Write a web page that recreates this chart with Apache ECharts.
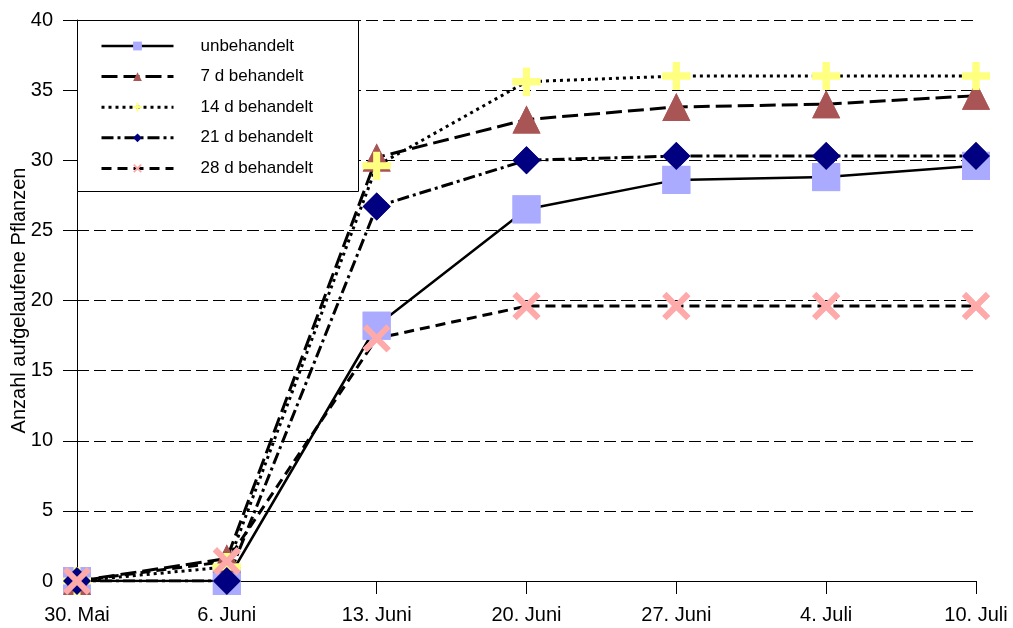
<!DOCTYPE html>
<html>
<head>
<meta charset="utf-8">
<script src="https://cdn.jsdelivr.net/npm/echarts@6/dist/echarts.min.js"></script>
<style>
html,body{margin:0;padding:0;background:#fff;}
#chart{width:1013px;height:628px;}
</style>
</head>
<body>
<div id="chart"></div>
<script>
const categories = ['30. Mai', '6. Juni', '13. Juni', '20. Juni', '27. Juni', '4. Juli', '10. Juli'];
const seriesNames = ['unbehandelt', '7 d behandelt', '14 d behandelt', '21 d behandelt', '28 d behandelt'];
const unbehandelt = [0, 0, 18.2, 26.5, 28.6, 28.8, 29.6];
const behandelt7 = [0, 1.6, 30.2, 32.9, 33.8, 34.0, 34.6];
const behandelt14 = [0, 1.0, 29.6, 35.6, 36.0, 36.0, 36.0];
const behandelt21 = [0, 0, 26.7, 30.0, 30.3, 30.3, 30.3];
const behandelt28 = [0, 1.4, 17.3, 19.6, 19.6, 19.6, 19.6];
const yTicks = [0, 5, 10, 15, 20, 25, 30, 35, 40];

const FONT = '"Liberation Sans", Arial, sans-serif';
const PLUS = 'path://M3,0H5V3H8V5H5V8H3V5H0V3H3Z';
const CROSS = 'path://M0,1.5L1.5,0L5,3.5L8.5,0L10,1.5L6.5,5L10,8.5L8.5,10L5,6.5L1.5,10L0,8.5L3.5,5Z';

const styles = [
  {data: unbehandelt, symbol: 'rect', color: '#AAAAFF', dash: 'solid', width: 2.5},
  {data: behandelt7, symbol: 'triangle', color: '#AA5555', dash: [16, 6], width: 3},
  {data: behandelt14, symbol: PLUS, color: '#FFFF80', dash: [3, 4], width: 3},
  {data: behandelt21, symbol: 'diamond', color: '#000080', dash: [12, 4, 3, 4], width: 3},
  {data: behandelt28, symbol: CROSS, color: '#FFAAAA', dash: [10, 6], width: 3}
];

const series = [];
styles.forEach((s, i) => {
  series.push({
    name: seriesNames[i],
    type: 'line',
    data: s.data,
    z: 2,
    symbol: s.symbol,
    symbolSize: 28,
    showAllSymbol: true,
    itemStyle: {color: s.color, borderWidth: 0},
    lineStyle: {color: '#000', width: s.width, type: s.dash},
    emphasis: {disabled: true},
    animation: false
  });
});
styles.forEach((s, i) => {
  series.push({
    type: 'scatter',
    data: s.data,
    z: 3,
    symbol: s.symbol,
    symbolSize: 28,
    itemStyle: {color: s.color, opacity: 1},
    emphasis: {disabled: true},
    animation: false,
    silent: true
  });
});

const chart = echarts.init(document.getElementById('chart'), null, {renderer: 'canvas'});
chart.setOption({
  animation: false,
  backgroundColor: '#fff',
  textStyle: {fontFamily: FONT},
  grid: {left: 77, top: 20, right: 37, bottom: 47, containLabel: false, outerBoundsMode: 'none'},
  xAxis: {
    type: 'category',
    data: categories,
    boundaryGap: false,
    axisLine: {lineStyle: {color: '#000', width: 1}},
    axisTick: {show: true, length: 13, lineStyle: {color: '#000'}},
    axisLabel: {color: '#000', fontSize: 20, fontFamily: FONT, margin: 24, interval: 0},
    splitLine: {show: false}
  },
  yAxis: {
    type: 'value',
    min: yTicks[0],
    max: yTicks[yTicks.length - 1],
    interval: 5,
    name: 'Anzahl aufgelaufene Pflanzen',
    nameLocation: 'middle',
    nameGap: 48,
    nameMoveOverlap: false,
    nameTextStyle: {color: '#000', fontSize: 20, fontFamily: FONT},
    axisLine: {show: true, lineStyle: {color: '#000', width: 1}},
    axisTick: {show: true, length: 14, lineStyle: {color: '#000'}},
    axisLabel: {color: '#000', fontSize: 20, fontFamily: FONT, margin: 24},
    splitLine: {show: true, lineStyle: {color: '#000', width: 1, type: [12, 5]}}
  },
  graphic: [{
    type: 'rect',
    z: 3,
    shape: {x: 77.5, y: 20.5, width: 281, height: 171},
    style: {fill: '#fff', stroke: '#000', lineWidth: 1}
  }],
  legend: {
    data: seriesNames,
    orient: 'vertical',
    left: 100,
    top: 36,
    padding: 0,
    itemGap: 10.6,
    itemWidth: 72,
    itemHeight: 11,
    selectedMode: false,
    z: 5,
    lineStyle: {width: 'inherit'},
    textStyle: {color: '#000', fontSize: 17, fontFamily: FONT, lineHeight: 20, padding: [0, 0, 0, 22]}
  },
  series: series
});
</script>
</body>
</html>
